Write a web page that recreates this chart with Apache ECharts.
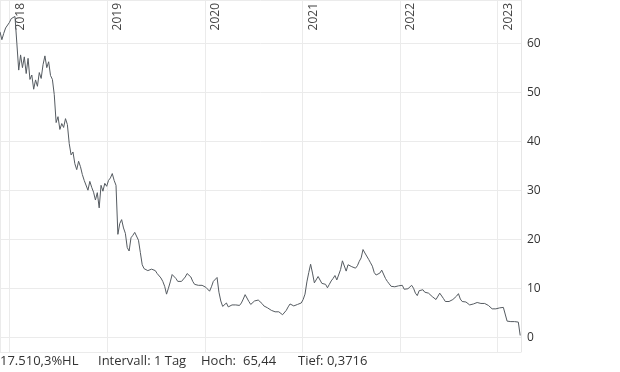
<!DOCTYPE html>
<html>
<head>
<meta charset="utf-8">
<script src="https://cdn.jsdelivr.net/npm/echarts@6/dist/echarts.min.js"></script>
<style>
html,body{margin:0;padding:0;background:#fff;}
#c{width:620px;height:372px;}
</style>
</head>
<body>
<div id="c"></div>
<script>
// Weekly closing prices, first week starting 2017-11-26
const startDate = '2017-11-26';
const stepDays = 7;
const prices = [
62.3,60.7,62.0,63.1,62.7,64.2,65.0,65.3,65.44,60.0,
54.5,57.6,55.0,57.2,53.8,56.9,52.6,53.5,50.6,52.5,
51.2,54.0,52.8,55.6,57.4,55.0,56.2,53.4,52.6,49.5,
43.8,45.0,42.4,43.6,42.8,44.6,43.4,39.5,37.2,37.8,
35.4,34.2,35.9,34.8,33.2,32.0,32.4,30.0,31.8,30.6,
29.6,28.0,29.5,26.4,31.0,29.8,31.4,30.8,32.0,32.5,
33.4,32.0,31.0,21.0,23.2,24.0,22.3,21.2,18.3,17.6,
20.3,20.8,21.4,21.3,19.8,17.3,14.8,14.0,13.8,13.6,
14.0,13.9,14.2,13.6,13.0,12.7,12.1,11.4,10.4,8.8,
10.0,11.3,12.8,13.0,12.0,11.4,11.6,11.4,11.8,12.3,
13.0,12.7,12.3,11.4,10.8,10.4,10.6,10.4,10.6,10.5,
10.2,9.9,9.4,10.3,11.4,11.8,12.2,9.2,7.4,6.3,
6.0,7.0,6.2,6.1,6.6,6.9,6.6,6.3,6.5,7.0,
7.8,8.7,8.6,7.3,6.7,6.9,7.4,7.6,7.6,7.4,
6.9,6.4,6.1,6.0,5.9,5.5,5.2,5.2,4.9,5.2,
5.0,4.6,5.0,5.5,6.2,6.8,6.8,6.4,6.4,6.7,
6.9,7.0,7.7,8.8,11.3,13.2,14.9,13.1,11.1,11.5,
12.4,12.6,11.0,11.3,10.8,10.1,10.8,11.5,12.0,12.6,
11.7,12.0,13.8,15.6,15.2,13.5,14.8,15.2,14.4,14.3,
14.1,14.6,15.5,16.2,17.9,17.2,16.8,15.9,15.2,14.5,
13.2,12.7,13.1,13.1,13.7,14.0,12.0,11.4,10.9,10.4,
10.4,10.3,10.1,10.5,10.9,10.6,9.8,9.4,9.9,10.3,
10.6,10.0,9.0,8.5,9.5,9.9,9.7,9.2,9.0,9.0,
8.7,8.3,7.9,7.7,7.9,9.0,8.7,7.9,7.3,7.3,
7.3,7.4,7.7,8.0,8.4,8.9,7.8,7.3,7.6,7.2,
6.9,6.6,6.4,6.8,7.0,7.1,6.9,6.9,7.0,6.9,
6.8,6.5,6.1,5.8,5.6,5.8,6.0,6.0,6.0,6.1,
6.2,3.3,3.2,3.2,3.2,3.2,3.1,3.1,0.3716
];
const axisStart = '2017-11-26';
const axisEnd = '2023-03-29';
const yMin = -3;
const yMax = 68.8;
const footerTexts = ['17.510,3%HL', 'Intervall: 1 Tag', 'Hoch:', '65,44', 'Tief: 0,3716'];

const t0 = Date.parse(startDate + 'T00:00:00Z');
const seriesData = prices.map((v, i) => [t0 + i * stepDays * 86400000, v]);

const chart = echarts.init(document.getElementById('c'), null, {renderer: 'canvas'});
const font = '"Open Sans", "Noto Sans", sans-serif';
const footerLeft = [0, 98, 201, 243, 298];
chart.setOption({
  animation: false,
  useUTC: true,
  grid: {left: 0, right: 99, top: 0, bottom: 20, containLabel: false},
  xAxis: {
    type: 'time',
    position: 'top',
    min: Date.parse(axisStart + 'T00:00:00Z'),
    max: Date.parse(axisEnd + 'T00:00:00Z'),
    axisLine: {show: false},
    axisTick: {show: false},
    splitLine: {show: true, lineStyle: {color: '#ebebeb', width: 1}},
    axisLabel: {
      inside: true,
      rotate: 90,
      margin: 3,
      align: 'right',
      verticalAlign: 'top',
      lineHeight: 21,
      fontSize: 12,
      fontFamily: font,
      color: '#444',
      showMinLabel: false,
      showMaxLabel: false,
      formatter: function (val) {
        const d = new Date(val);
        if (d.getUTCMonth() === 0 && d.getUTCDate() === 1) return String(d.getUTCFullYear());
        return '';
      }
    }
  },
  yAxis: {
    type: 'value',
    position: 'right',
    min: yMin,
    max: yMax,
    minInterval: 10,
    maxInterval: 10,
    axisLine: {show: true, lineStyle: {color: '#e6e6e6', width: 1}},
    axisTick: {show: false},
    splitLine: {show: true, lineStyle: {color: '#ebebeb', width: 1}},
    axisLabel: {
      margin: 6,
      fontSize: 12,
      fontFamily: font,
      color: '#333',
      showMinLabel: false,
      showMaxLabel: false
    }
  },
  series: [{
    type: 'line',
    data: seriesData,
    showSymbol: false,
    symbol: 'none',
    lineStyle: {color: '#555b61', width: 1},
    silent: true
  }],
  graphic: footerTexts.map((t, i) => ({
    type: 'text', left: footerLeft[i], top: 355,
    style: {text: t, font: '13px ' + font, fill: '#333'}
  }))
});
</script>
</body>
</html>
